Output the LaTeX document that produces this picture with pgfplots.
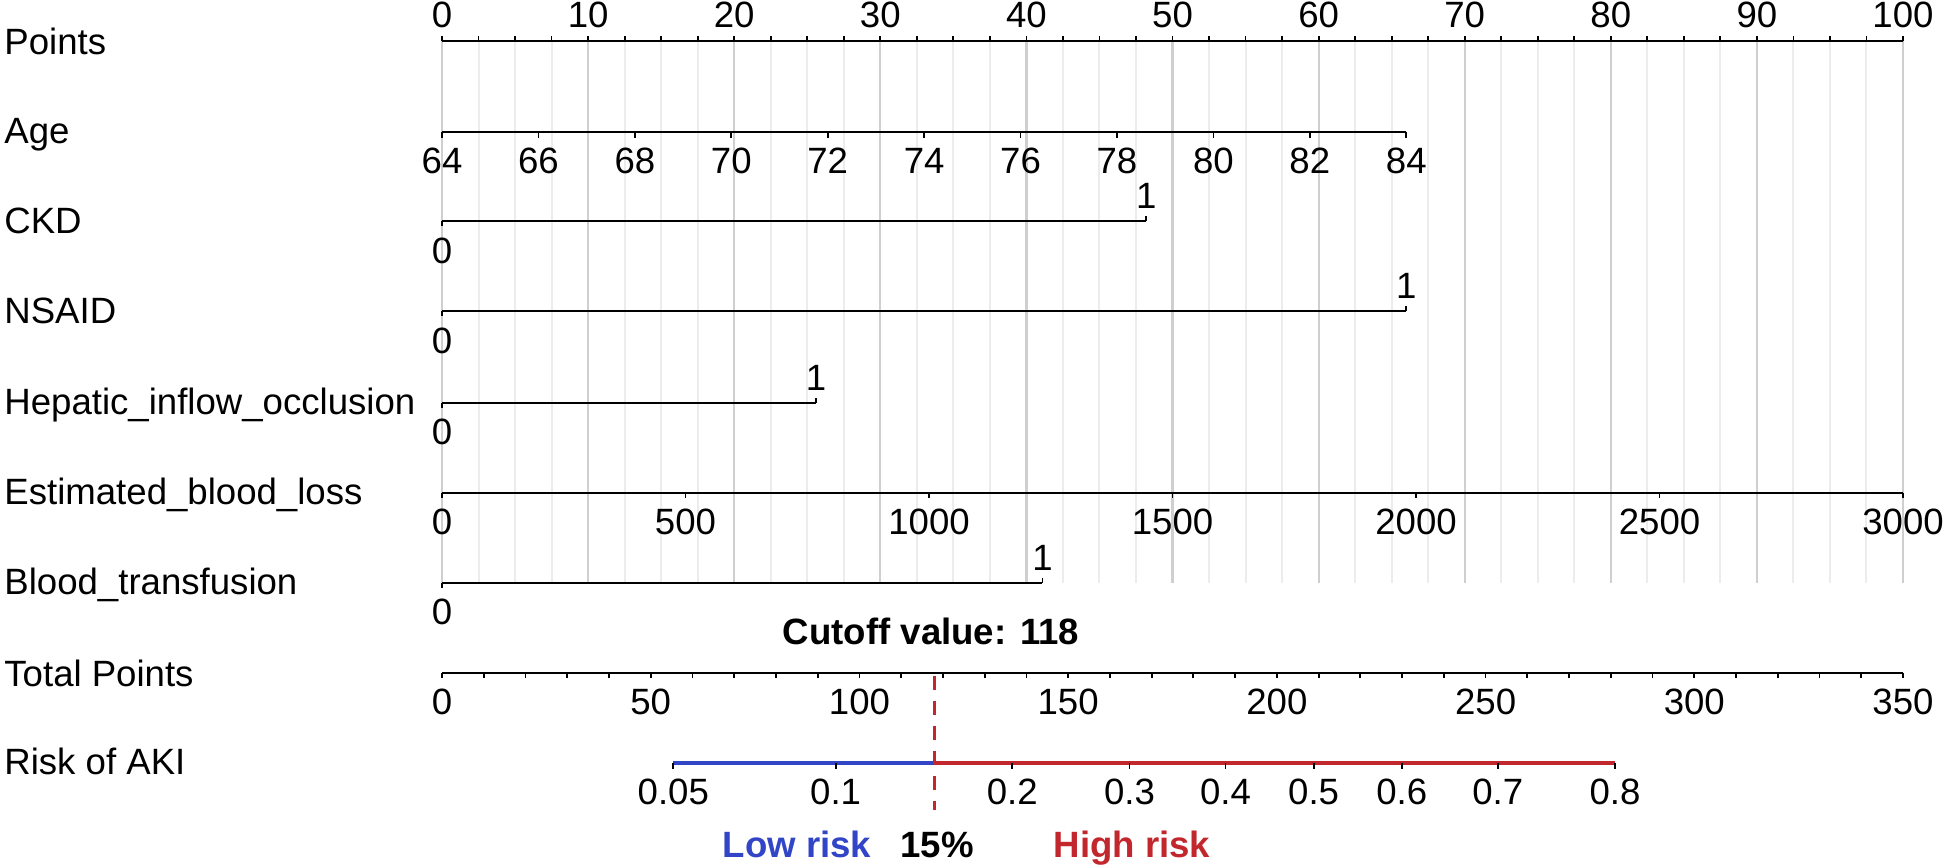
\documentclass[border=0pt]{standalone}
\usepackage{pgfplots}
\pgfplotsset{compat=1.18}
\usepackage{fontspec}
\setmainfont{Liberation Sans}
\definecolor{gmaj}{HTML}{CFCFCF}
\definecolor{gmin}{HTML}{ECECEC}
\definecolor{lowblue}{HTML}{3245C6}
\definecolor{highred}{HTML}{C1272D}
\newcommand\ff{\fontsize{18.3}{21}\selectfont}
\newcommand\tk[3]{\edef\tmp{\noexpand\addplot[black,line width=0.9pt,forget plot] coordinates {(#1,#2) (#1,#3)};}\tmp}
\newcommand\lb[3]{\edef\tmp{\noexpand\node[anchor=base,inner sep=0pt,font=\noexpand\ff] at (axis cs:#1,#2) {#3};}\tmp}
\newcommand\rowlab[2]{\node[anchor=base west,inner sep=0pt,font=\ff] at (axis cs:-29.98,#1) {#2};}
\begin{document}
\begin{tikzpicture}
\begin{axis}[width=972pt,height=433.5pt,scale only axis,
  xmin=-30.2533,xmax=102.806,ymin=-867,ymax=0,hide axis,clip=false]
\path (rel axis cs:0,0) rectangle (rel axis cs:1,1);
% grid
\pgfplotsinvokeforeach{0,2.5,...,100}{\addplot[gmin,line width=1pt,forget plot] coordinates {(#1,-41) (#1,-583)};}
\pgfplotsinvokeforeach{0,10,...,100}{\addplot[gmaj,line width=1.1pt,forget plot] coordinates {(#1,-41) (#1,-583)};}
% row labels
\rowlab{-55}{Points}
\rowlab{-144}{Age}
\rowlab{-234}{CKD}
\rowlab{-324}{NSAID}
\rowlab{-415}{Hepatic\_inflow\_occlusion}
\rowlab{-505}{Estimated\_blood\_loss}
\rowlab{-595}{Blood\_transfusion}
\rowlab{-687}{Total Points}
\rowlab{-775}{Risk of AKI}
% Points
\addplot[black,line width=0.9pt,forget plot] coordinates {(0,-41) (100,-41)};
\pgfplotsinvokeforeach{0,2.5,...,100}{\tk{#1}{-41}{-36}}
\pgfplotsinvokeforeach{0,10,...,100}{\lb{#1}{-28}{#1}}
% Age
\addplot[black,line width=0.9pt,forget plot] coordinates {(0,-132) (66,-132)};
\pgfplotsinvokeforeach{64,66,...,84}{\pgfmathsetmacro\tx{(#1-64)*3.3}\tk{\tx}{-132}{-138}\lb{\tx}{-174}{#1}}
% CKD
\addplot[black,line width=0.9pt,forget plot] coordinates {(0,-221) (48.2,-221)};
\tk{0}{-221}{-226}\tk{48.2}{-221}{-216}
\lb{0}{-264}{0}\lb{48.2}{-209}{1}
% NSAID
\addplot[black,line width=0.9pt,forget plot] coordinates {(0,-311) (66.0,-311)};
\tk{0}{-311}{-316}\tk{66.0}{-311}{-306}
\lb{0}{-354}{0}\lb{66.0}{-299}{1}
% Hepatic inflow occlusion
\addplot[black,line width=0.9pt,forget plot] coordinates {(0,-403) (25.6,-403)};
\tk{0}{-403}{-408}\tk{25.6}{-403}{-398}
\lb{0}{-445}{0}\lb{25.6}{-391}{1}
% Estimated blood loss
\addplot[black,line width=0.9pt,forget plot] coordinates {(0,-493) (100,-493)};
\pgfplotsinvokeforeach{0,500,...,3000}{\pgfmathsetmacro\tx{#1/30}\tk{\tx}{-493}{-498}\lb{\tx}{-535}{#1}}
% Blood transfusion
\addplot[black,line width=0.9pt,forget plot] coordinates {(0,-583) (41.1,-583)};
\tk{0}{-583}{-588}\tk{41.1}{-583}{-578}
\lb{0}{-625}{0}\lb{41.1}{-571}{1}
% Total points
\addplot[black,line width=0.9pt,forget plot] coordinates {(0,-673) (100,-673)};
\pgfplotsinvokeforeach{0,10,...,350}{\pgfmathsetmacro\tx{#1/3.5}\tk{\tx}{-673}{-678}}
\pgfplotsinvokeforeach{0,50,...,350}{\pgfmathsetmacro\tx{#1/3.5}\lb{\tx}{-715}{#1}}
% Risk of AKI
\addplot[lowblue,line width=1.8pt,forget plot] coordinates {(15.83,-763) (33.714,-763)};
\addplot[highred,line width=1.8pt,forget plot] coordinates {(33.714,-763) (80.29,-763)};
\tk{15.83}{-763}{-769}\lb{15.83}{-805}{0.05}
\tk{26.94}{-763}{-769}\lb{26.94}{-805}{0.1}
\tk{39.03}{-763}{-769}\lb{39.03}{-805}{0.2}
\tk{47.06}{-763}{-769}\lb{47.06}{-805}{0.3}
\tk{53.63}{-763}{-769}\lb{53.63}{-805}{0.4}
\tk{59.66}{-763}{-769}\lb{59.66}{-805}{0.5}
\tk{65.69}{-763}{-769}\lb{65.69}{-805}{0.6}
\tk{72.26}{-763}{-769}\lb{72.26}{-805}{0.7}
\tk{80.29}{-763}{-769}\lb{80.29}{-805}{0.8}
% cutoff
\addplot[highred,line width=1.2pt,dash pattern=on 7pt off 5.5pt,forget plot] coordinates {(33.714,-676) (33.714,-810)};
\node[anchor=base,inner sep=0pt,font=\ff\bfseries] at (axis cs:33.47,-645) {Cutoff value: 118};
\node[anchor=base,inner sep=0pt,font=\ff\bfseries,text=lowblue] at (axis cs:24.3,-858) {Low risk};
\node[anchor=base,inner sep=0pt,font=\ff\bfseries] at (axis cs:33.88,-858) {15\%};
\node[anchor=base,inner sep=0pt,font=\ff\bfseries,text=highred] at (axis cs:47.23,-858) {High risk};
\end{axis}
\end{tikzpicture}
\end{document}
